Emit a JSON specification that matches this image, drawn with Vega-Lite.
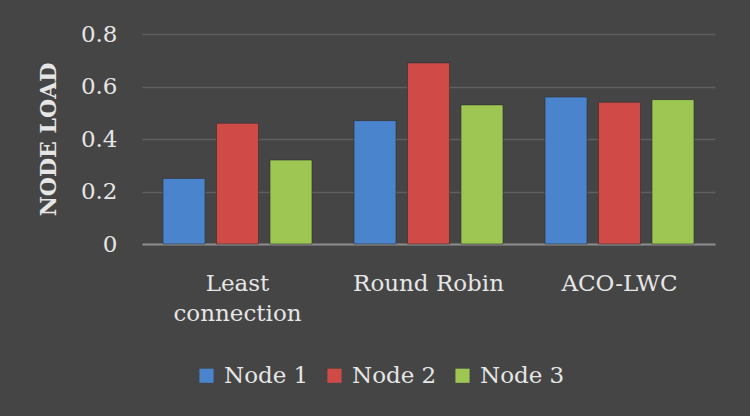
{
  "$schema": "https://vega.github.io/schema/vega-lite/v6.json",
  "autosize": "none",
  "width": 573,
  "height": 210,
  "padding": {"left": 142, "top": 34, "right": 35, "bottom": 172},
  "background": "#454545",
  "config": {
    "view": {"stroke": null},
    "font": "DejaVu Serif",
    "axis": {"labelFont": "DejaVu Serif", "titleFont": "DejaVu Serif", "labelColor": "#e6e6e6", "titleColor": "#e6e6e6"}
  },
  "data": {
    "values": [
      {"algo": "Least connection", "node": "Node 1", "load": 0.25},
      {"algo": "Least connection", "node": "Node 2", "load": 0.46},
      {"algo": "Least connection", "node": "Node 3", "load": 0.32},
      {"algo": "Round Robin", "node": "Node 1", "load": 0.47},
      {"algo": "Round Robin", "node": "Node 2", "load": 0.69},
      {"algo": "Round Robin", "node": "Node 3", "load": 0.53},
      {"algo": "ACO-LWC", "node": "Node 1", "load": 0.56},
      {"algo": "ACO-LWC", "node": "Node 2", "load": 0.54},
      {"algo": "ACO-LWC", "node": "Node 3", "load": 0.55}
    ]
  },
  "mark": {"type": "bar", "strokeWidth": 1, "stroke": "#2e2e2e", "strokeOpacity": 0.6},
  "encoding": {
    "x": {
      "field": "algo", "type": "nominal", "sort": null,
      "scale": {"paddingInner": 0.22, "paddingOuter": 0.11},
      "axis": {
        "title": null, "labelAngle": 0, "labelFontSize": 23, "labelPadding": 28,
        "labelLineHeight": 30, "ticks": false,
        "domainColor": "#8c8c8c", "domainWidth": 2,
        "labelExpr": "datum.value == 'Least connection' ? ['Least', 'connection'] : datum.value"
      }
    },
    "xOffset": {"field": "node", "type": "nominal", "scale": {"paddingInner": 0.215, "paddingOuter": 0}},
    "y": {
      "field": "load", "type": "quantitative",
      "scale": {"domain": [0, 0.8]},
      "axis": {
        "title": "NODE LOAD", "titleFontSize": 22, "titleFontWeight": "bold", "titlePadding": 20,
        "values": [0, 0.2, 0.4, 0.6, 0.8], "labelExpr": "datum.value == 0 ? '0' : format(datum.value, '.1f')",
        "labelFontSize": 23, "labelPadding": 25, "ticks": false, "domain": false,
        "gridColor": "#5f5f5f", "gridWidth": 1.5
      }
    },
    "color": {
      "field": "node", "type": "nominal",
      "scale": {"range": ["#4a84cc", "#d04b48", "#9dc752"]},
      "legend": {
        "title": null, "orient": "none", "direction": "horizontal",
        "legendX": 53, "legendY": 330,
        "labelFont": "DejaVu Serif", "labelFontSize": 23, "labelColor": "#e6e6e6",
        "symbolType": "square", "symbolSize": 200, "symbolStrokeWidth": 0,
        "columnPadding": 14, "labelOffset": 6
      }
    }
  }
}
